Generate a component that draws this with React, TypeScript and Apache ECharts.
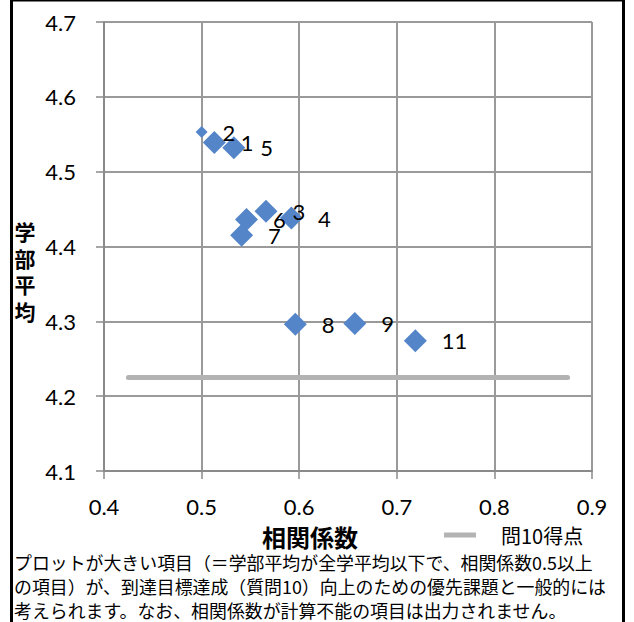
import React, { useEffect, useRef } from "react";
import * as echarts from "echarts";

// ---- data ----
const itemNames = ["1", "2", "3", "4", "5", "6", "7", "8", "9", "11"];
const correlation = [0.513, 0.5, 0.566, 0.592, 0.533, 0.546, 0.541, 0.596, 0.657, 0.719];
const facultyAverage = [4.539, 4.553, 4.447, 4.438, 4.532, 4.436, 4.415, 4.296, 4.297, 4.274];
// true = faculty average at or below university average and correlation >= 0.5 (large plot)
const priorityItem = [true, false, true, true, true, true, true, true, true, true];

const q10Name = "問10得点";
const q10X = [0.425, 0.875];
const q10Score = [4.225, 4.225];

const xTicks = [0.4, 0.5, 0.6, 0.7, 0.8, 0.9];
const yTicks = [4.1, 4.2, 4.3, 4.4, 4.5, 4.6, 4.7];

const xTitle = "相関係数";
const yTitle = "学部平均";
const noteLines = [
  "プロットが大きい項目（＝学部平均が全学平均以下で、相関係数0.5以上",
  "の項目）が、到達目標達成（質問10）向上のための優先課題と一般的には",
  "考えられます。なお、相関係数が計算不能の項目は出力されません。",
];

const NUM_FONT = "Lato, 'Liberation Sans', sans-serif";
const JP_FONT = "'Noto Sans CJK JP', sans-serif";

export default function App() {
  const ref = useRef<HTMLDivElement>(null);

  useEffect(() => {
    if (!ref.current) return;
    const chart = echarts.init(ref.current, undefined, { renderer: "svg" });

    const scatterData = itemNames.map((n, i) => ({
      name: n,
      value: [correlation[i], facultyAverage[i]],
      symbolSize: priorityItem[i] ? 23 : 12,
    }));

    chart.setOption({
      animation: false,
      backgroundColor: "#ffffff",
      grid: {
        left: 104,
        top: 22,
        width: 488,
        height: 449,
        show: true,
        borderColor: "#000",
        borderWidth: 1,
        backgroundColor: "transparent",
      },
      xAxis: {
        type: "value",
        min: xTicks[0],
        max: xTicks[xTicks.length - 1],
        interval: 0.1,
        axisLine: { show: true, onZero: false, lineStyle: { color: "#8a8a8a", width: 2 } },
        axisTick: { show: true, length: 8, lineStyle: { color: "#8a8a8a", width: 1.5 } },
        splitLine: { show: true, lineStyle: { color: "#9a9a9a", width: 2 } },
        axisLabel: {
          margin: 24,
          color: "#000",
          fontSize: 22,
          fontFamily: NUM_FONT,
          formatter: (v: number) => v.toFixed(1),
        },
      },
      yAxis: {
        type: "value",
        min: yTicks[0],
        max: yTicks[yTicks.length - 1],
        interval: 0.1,
        axisLine: { show: true, onZero: false, lineStyle: { color: "#8a8a8a", width: 2 } },
        axisTick: { show: true, length: 8, lineStyle: { color: "#8a8a8a", width: 1.5 } },
        splitLine: { show: true, lineStyle: { color: "#9a9a9a", width: 2 } },
        axisLabel: {
          margin: 28,
          color: "#000",
          fontSize: 22,
          fontFamily: NUM_FONT,
          formatter: (v: number) => v.toFixed(1),
        },
      },
      legend: {
        data: [q10Name],
        left: 444,
        top: 525,
        padding: 0,
        icon: "rect",
        itemWidth: 32,
        itemHeight: 5,
        textStyle: {
          fontSize: 20,
          color: "#000",
          fontFamily: JP_FONT,
          padding: [0, 0, 0, 20],
        },
      },
      series: [
        {
          type: "line",
          name: q10Name,
          data: q10X.map((x, i) => [x, q10Score[i]]),
          symbol: "none",
          lineStyle: { color: "#b3b3b3", width: 5, cap: "round" },
          itemStyle: { color: "#b3b3b3" },
          silent: true,
          z: 1,
        },
        {
          type: "scatter",
          name: "items",
          symbol: "diamond",
          data: scatterData,
          itemStyle: { color: "#5585C9", opacity: 1 },
          label: {
            show: true,
            position: "right",
            distance: 15,
            formatter: (p: any) => p.name,
            color: "#000",
            fontSize: 22,
            fontFamily: NUM_FONT,
          },
          z: 3,
        },
      ],
      graphic: [
        {
          type: "rect",
          shape: { x: 11.5, y: 0, width: 612, height: 660 },
          style: { fill: "none", stroke: "#000", lineWidth: 3 },
          silent: true,
        },
        ...yTitle.split("").map((ch, i) => ({
          type: "text",
          x: 25,
          y: 231 + i * 26.5,
          style: {
            text: ch,
            font: `bold 21px ${JP_FONT}`,
            lineHeight: 22,
            fill: "#000",
            align: "center",
            verticalAlign: "middle",
          },
        })),
        {
          type: "text",
          x: 310,
          y: 536,
          style: {
            text: xTitle,
            font: `bold 24px ${JP_FONT}`,
            lineHeight: 24,
            fill: "#000",
            align: "center",
            verticalAlign: "middle",
          },
        },
        ...noteLines.map((t, i) => ({
          type: "text",
          x: 14,
          y: 561.5 + i * 24.2,
          style: {
            text: t,
            font: `17.9px ${JP_FONT}`,
            lineHeight: 19,
            fill: "#000",
            align: "left",
            verticalAlign: "middle",
          },
        })),
      ],
    });

    return () => chart.dispose();
  }, []);

  return (
    <div
      ref={ref}
      style={{ position: "absolute", left: 0, top: 0, width: 634, height: 622, background: "#fff" }}
    />
  );
}
